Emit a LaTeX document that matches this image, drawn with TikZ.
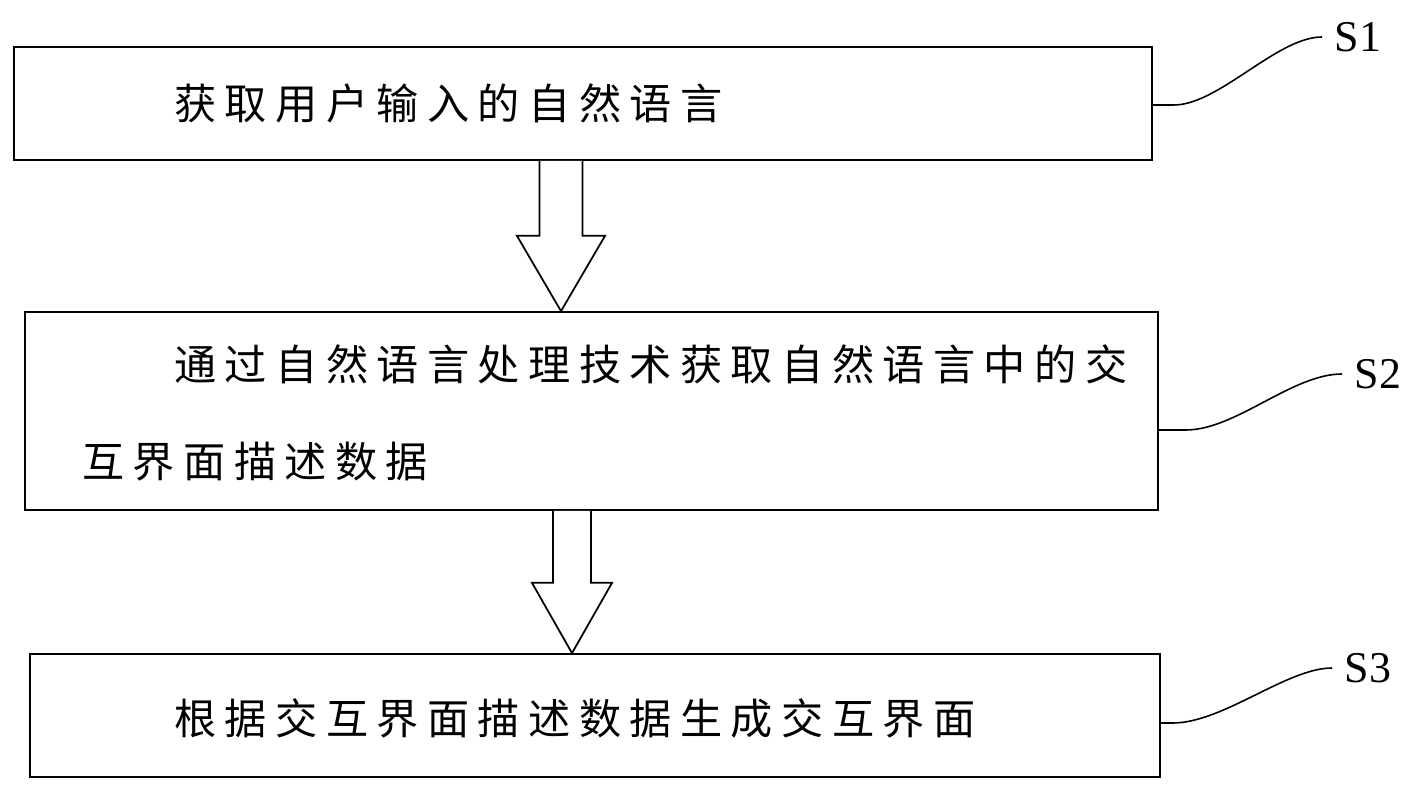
\documentclass[tikz,border=0pt]{standalone}
\usepackage{fontspec}
\setmainfont{Liberation Serif}
\newfontfamily\cjk[LetterSpace=20]{Noto Sans CJK SC}
\usepackage{tikz}
\usetikzlibrary{positioning, calc}

\begin{document}
\begin{tikzpicture}[
  x=0.02cm, y=-0.02cm,
  stepbox/.style={
    rectangle, draw=black, line width=1pt, fill=white, inner sep=0pt
  },
  steptext/.style={
    anchor=west, inner sep=0pt, font=\cjk\fontsize{24pt}{28pt}\selectfont
  },
  steplabel/.style={
    anchor=west, inner sep=0.25cm, font=\fontsize{25pt}{28pt}\selectfont
  },
  blockarr/.style={draw=black, line width=1pt, fill=white, line join=miter},
  leader/.style={draw=black, line width=0.9pt},
]
\useasboundingbox (0,0) rectangle (1416,793);

% Step boxes
\node[stepbox, minimum width=22.76cm, minimum height=2.26cm] (s1) at (583,103.5) {};
\node[stepbox, minimum width=22.66cm, minimum height=3.96cm] (s2) at (591.5,411) {};
\node[stepbox, minimum width=22.6cm, minimum height=2.46cm] (s3) at (595,715.5) {};

% Step texts
\node[steptext] (t1) at (174,103) {获取用户输入的自然语言};
\node[steptext] (t2a) at (174,364) {通过自然语言处理技术获取自然语言中的交};
\node[steptext] (t2b) at (82,462) {互界面描述数据};
\node[steptext] (t3) at (174,718) {根据交互界面描述数据生成交互界面};

% Block arrows
\path (s1.south -| 561,0) coordinate (a1top) (s2.north -| 561,0) coordinate (a1tip);
\path (s2.south -| 572,0) coordinate (a2top) (s3.north -| 572,0) coordinate (a2tip);
\draw[blockarr] ($(a1top)+(-21.5,0)$) -- ($(a1top)+(-21.5,75)$) -- ($(a1top)+(-44,75)$)
  -- (a1tip) -- ($(a1top)+(44,75)$) -- ($(a1top)+(21.5,75)$) -- ($(a1top)+(21.5,0)$);
\draw[blockarr] ($(a2top)+(-19,0)$) -- ($(a2top)+(-19,72)$) -- ($(a2top)+(-40,72)$)
  -- (a2tip) -- ($(a2top)+(40,72)$) -- ($(a2top)+(19,72)$) -- ($(a2top)+(19,0)$);

% Labels
\node[steplabel] (l1) at (1322,37) {S1};
\node[steplabel] (l2) at (1342,374) {S2};
\node[steplabel] (l3) at (1332,668) {S3};

% Leaders
\draw[leader] (s1.east |- 0,105) -- ++(21,0)
  .. controls +(45,0) and +(-45,0) .. (l1.west);
\draw[leader] (s2.east |- 0,430) -- ++(27,0)
  .. controls +(50,0) and +(-50,0) .. (l2.west);
\draw[leader] (s3.east |- 0,723) -- ++(12,0)
  .. controls +(50,0) and +(-45,0) .. (l3.west);
\end{tikzpicture}
\end{document}
